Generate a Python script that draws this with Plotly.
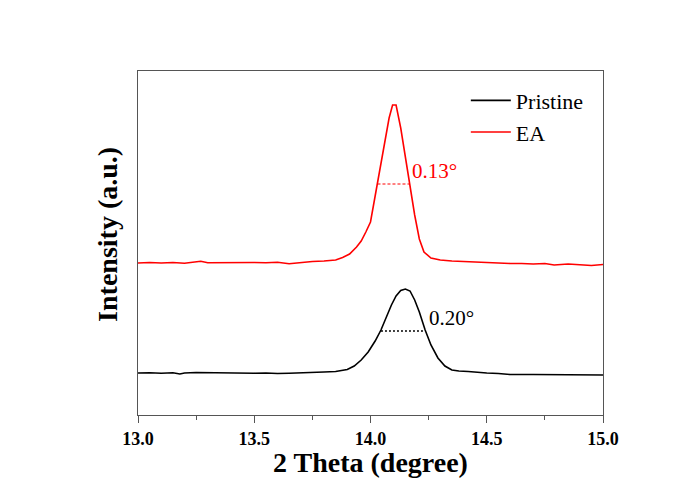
import plotly.graph_objects as go

# ---- data ----
pristine_x = [13.00, 13.05, 13.10, 13.15, 13.18, 13.20, 13.25, 13.30, 13.35, 13.40,
              13.45, 13.50, 13.55, 13.60, 13.65, 13.70, 13.75, 13.80, 13.85, 13.90,
              13.93, 13.96, 13.99, 14.02, 14.045, 14.07, 14.09, 14.11, 14.13, 14.15,
              14.17, 14.19, 14.21, 14.235, 14.26, 14.29, 14.32, 14.35, 14.38, 14.42,
              14.46, 14.50, 14.55, 14.60, 14.70, 14.80, 14.90, 15.00]
pristine_y = [42.0, 42.3, 41.8, 42.2, 41.0, 42.0, 42.5, 42.3, 42.0, 42.2,
              42.0, 41.8, 42.0, 41.5, 41.8, 42.0, 42.5, 43.0, 43.5, 45.5,
              49.0, 55.0, 63.0, 74.0, 85.0, 99.0, 110.0, 119.0, 124.5, 126.0,
              124.0, 115.0, 103.0, 85.0, 70.0, 57.0, 49.0, 45.0, 44.0, 43.5,
              42.5, 42.0, 41.5, 40.5, 40.5, 40.3, 40.2, 40.0]

ea_x = [13.00, 13.05, 13.10, 13.15, 13.20, 13.25, 13.27, 13.30, 13.35, 13.40,
        13.45, 13.50, 13.55, 13.60, 13.65, 13.70, 13.75, 13.80, 13.85, 13.88,
        13.91, 13.94, 13.96, 13.98, 14.00, 14.02, 14.04, 14.06, 14.08, 14.095,
        14.11, 14.13, 14.15, 14.17, 14.19, 14.21, 14.23, 14.26, 14.30, 14.35,
        14.40, 14.45, 14.50, 14.55, 14.60, 14.65, 14.70, 14.75, 14.79, 14.85,
        14.90, 14.95, 15.00]
ea_y = [152.0, 152.5, 152.0, 152.5, 151.8, 153.0, 153.8, 152.3, 152.5, 152.3,
        152.6, 152.5, 152.2, 152.8, 151.2, 152.5, 153.5, 154.0, 155.0, 157.5,
        161.0, 168.0, 174.0, 183.0, 193.0, 219.0, 245.0, 271.0, 297.0, 310.0,
        310.0, 287.0, 258.0, 229.0, 200.0, 176.0, 163.0, 157.0, 155.0, 154.0,
        153.5, 152.5, 152.0, 151.5, 151.5, 151.5, 151.0, 151.5, 150.0, 151.0,
        150.5, 149.5, 150.5]

series_names = ["Pristine", "EA"]
series_colors = ["#000000", "#ff0000"]

fwhm_x0 = [14.045, 14.030]
fwhm_x1 = [14.235, 14.167]
fwhm_y = [84.0, 231.0]
fwhm_labels = ["0.20°", "0.13°"]
label_x = [14.245, 14.172]
label_y = [97.0, 244.0]

x_ticks = [13.0, 13.5, 14.0, 14.5, 15.0]
x_tick_text = ["13.0", "13.5", "14.0", "14.5", "15.0"]
x_title = "2 Theta (degree)"
y_title = "Intensity (a.u.)"

FONT = "Liberation Serif, Times New Roman, serif"
AXIS_COLOR = "#555555"

fig = go.Figure()
for xs, ys, name, col in [(pristine_x, pristine_y, series_names[0], series_colors[0]),
                          (ea_x, ea_y, series_names[1], series_colors[1])]:
    fig.add_trace(go.Scatter(x=xs, y=ys, mode="lines", name=name,
                             line=dict(color=col, width=1.6)))

dashes = ["2px,2px", "3px,2px"]
widths = [1.6, 1.0]
for i in range(2):
    fig.add_trace(go.Scatter(x=[fwhm_x0[i], fwhm_x1[i]], y=[fwhm_y[i], fwhm_y[i]],
                             mode="lines", showlegend=False, hoverinfo="skip",
                             line=dict(color=series_colors[i], width=widths[i], dash=dashes[i])))
    fig.add_annotation(x=label_x[i], y=label_y[i], text=fwhm_labels[i],
                       showarrow=False, xanchor="left", yanchor="middle",
                       font=dict(family=FONT, size=21, color=series_colors[i]))

# axis titles placed as annotations for precise positioning
fig.add_annotation(x=0.5, y=-0.138, xref="paper", yref="paper", text="<b>" + x_title + "</b>",
                   showarrow=False, xanchor="center", yanchor="middle",
                   font=dict(family=FONT, size=28, color="black"))
fig.add_annotation(x=-0.067, y=0.526, xref="paper", yref="paper", text="<b>" + y_title + "</b>",
                   showarrow=False, xanchor="center", yanchor="middle", textangle=-90,
                   font=dict(family=FONT, size=28, color="black"))

fig.update_layout(
    width=676, height=479,
    margin=dict(l=130, r=81, t=63, b=72),
    paper_bgcolor="white", plot_bgcolor="white",
    font=dict(family=FONT, color="black"),
    legend=dict(x=0.705, y=0.975, xanchor="left", yanchor="top",
                bgcolor="rgba(0,0,0,0)", font=dict(family=FONT, size=22),
                tracegroupgap=0, itemwidth=40),
    showlegend=True,
)
fig.update_xaxes(
    range=[13.0, 15.0], tickvals=x_ticks, ticktext=x_tick_text,
    ticks="outside", ticklen=7, tickwidth=1.3, tickcolor=AXIS_COLOR,
    minor=dict(dtick=0.25, tick0=13.0, ticks="outside", ticklen=4, tickwidth=1.3, tickcolor=AXIS_COLOR),
    showline=True, linecolor=AXIS_COLOR, linewidth=1.3, mirror=True,
    showgrid=False, zeroline=False,
    tickfont=dict(family=FONT, size=18, color="black", weight="bold"),
)
fig.update_yaxes(
    range=[0, 344], showticklabels=False, ticks="",
    showline=True, linecolor=AXIS_COLOR, linewidth=1.3, mirror=True,
    showgrid=False, zeroline=False,
)

fig.write_html("out.html")
